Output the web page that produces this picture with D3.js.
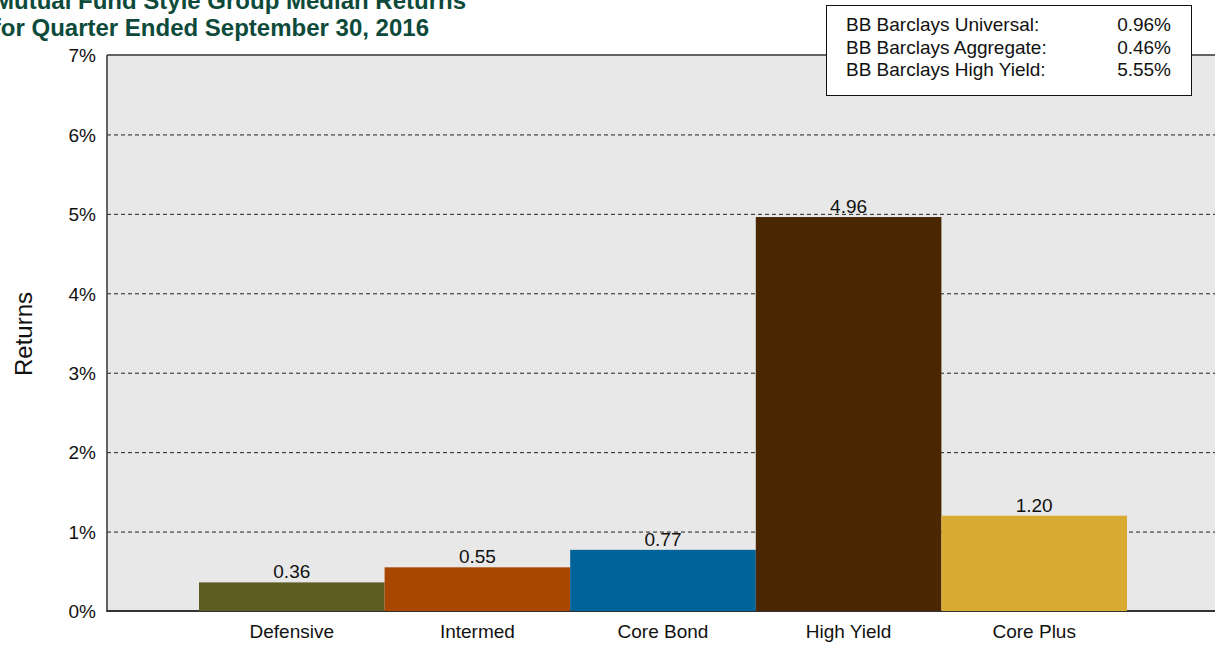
<!DOCTYPE html>
<html>
<head>
<meta charset="utf-8">
<script src="https://cdn.jsdelivr.net/npm/d3@7"></script>
<style>
  html, body { margin: 0; padding: 0; background: #ffffff; }
  svg { display: block; font-family: "Liberation Sans", Arial, sans-serif; }
</style>
</head>
<body>
<svg id="chart" width="1215" height="646"></svg>
<script>
const categories = ["Defensive", "Intermed", "Core Bond", "High Yield", "Core Plus"];
const values = [0.36, 0.55, 0.77, 4.96, 1.20];
const barColors = ["#5d5c22", "#a94600", "#006399", "#4a2700", "#daab32"];
const yTicks = [0, 1, 2, 3, 4, 5, 6, 7];
const titleLines = ["Mutual Fund Style Group Median Returns", "for Quarter Ended September 30, 2016"];
const benchNames = ["BB Barclays Universal:", "BB Barclays Aggregate:", "BB Barclays High Yield:"];
const benchValues = [0.96, 0.46, 5.55];

const svg = d3.select("#chart");
const plot = { left: 107, top: 55, right: 1219, bottom: 611 };
const FONT = "Liberation Sans, Arial, sans-serif";

const y = d3.scaleLinear().domain([0, 7]).range([plot.bottom, plot.top]);
const x = d3.scaleBand().domain(categories).range([199, 1127]).padding(0);

// plot background
svg.append("rect")
  .attr("x", plot.left).attr("y", plot.top)
  .attr("width", plot.right - plot.left).attr("height", plot.bottom - plot.top)
  .attr("fill", "#e8e8e8");

// grid lines
svg.append("g").selectAll("line")
  .data(yTicks.filter(d => d > 0 && d < 7))
  .join("line")
  .attr("x1", plot.left).attr("x2", plot.right)
  .attr("y1", d => y(d) + 0.5).attr("y2", d => y(d) + 0.5)
  .attr("stroke", "#222").attr("stroke-width", 1)
  .attr("stroke-dasharray", "4,3");

// frame: left, top, bottom
svg.append("line").attr("x1", plot.left).attr("x2", plot.left)
  .attr("y1", plot.top).attr("y2", plot.bottom)
  .attr("stroke", "#333").attr("stroke-width", 1.5);
svg.append("line").attr("x1", plot.left).attr("x2", plot.right)
  .attr("y1", plot.top).attr("y2", plot.top)
  .attr("stroke", "#333").attr("stroke-width", 1.5);
svg.append("line").attr("x1", plot.left - 0.75).attr("x2", plot.right)
  .attr("y1", plot.bottom).attr("y2", plot.bottom)
  .attr("stroke", "#333").attr("stroke-width", 2);

// bars
svg.append("g").selectAll("rect")
  .data(values)
  .join("rect")
  .attr("x", (d, i) => x(categories[i]))
  .attr("width", x.bandwidth())
  .attr("y", d => y(d))
  .attr("height", d => y(0) - y(d))
  .attr("fill", (d, i) => barColors[i]);

// bar value labels
svg.append("g").selectAll("text")
  .data(values)
  .join("text")
  .attr("x", (d, i) => x(categories[i]) + x.bandwidth() / 2)
  .attr("y", d => y(d) - 4)
  .attr("text-anchor", "middle")
  .attr("font-size", 19)
  .attr("fill", "#111")
  .text(d => d.toFixed(2));

// y axis
const yAxis = d3.axisLeft(y).tickValues(yTicks).tickSize(0).tickPadding(11)
  .tickFormat(d => d + "%");
const ya = svg.append("g").attr("transform", `translate(${plot.left},0)`).call(yAxis);
ya.select(".domain").remove();
ya.selectAll("text").attr("font-size", 19).attr("fill", "#111")
  .attr("font-family", FONT).attr("dy", "0.36em");

// x axis
const xAxis = d3.axisBottom(x).tickSize(0).tickPadding(14);
const xa = svg.append("g").attr("transform", `translate(0,${plot.bottom})`).call(xAxis);
xa.select(".domain").remove();
xa.selectAll("text").attr("font-size", 19).attr("fill", "#111")
  .attr("font-family", FONT);

// y axis title
svg.append("text")
  .attr("transform", `translate(32,${(plot.top + plot.bottom) / 2 + 1}) rotate(-90)`)
  .attr("text-anchor", "middle")
  .attr("font-size", 24)
  .attr("fill", "#111")
  .text("Returns");

// title
svg.append("g").selectAll("text")
  .data(titleLines)
  .join("text")
  .attr("x", (d, i) => i === 0 ? 466 : 429)
  .attr("y", (d, i) => 9 + i * 27)
  .attr("text-anchor", "end")
  .attr("font-size", 24)
  .attr("font-weight", "bold")
  .attr("fill", "#0d4a3a")
  .text(d => d);

// benchmark box
const box = { x: 826, y: 5, w: 365, h: 90 };
svg.append("rect")
  .attr("x", box.x + 0.5).attr("y", box.y + 0.5)
  .attr("width", box.w).attr("height", box.h)
  .attr("fill", "#fff").attr("stroke", "#111").attr("stroke-width", 1);
const bg = svg.append("g");
bg.selectAll("text.name")
  .data(benchNames)
  .join("text")
  .attr("class", "name")
  .attr("x", 846)
  .attr("y", (d, i) => 31 + i * 22.5)
  .attr("font-size", 19)
  .attr("fill", "#111")
  .text(d => d);
bg.selectAll("text.val")
  .data(benchValues)
  .join("text")
  .attr("class", "val")
  .attr("x", 1171)
  .attr("y", (d, i) => 31 + i * 22.5)
  .attr("text-anchor", "end")
  .attr("font-size", 19)
  .attr("fill", "#111")
  .text(d => d.toFixed(2) + "%");
</script>
</body>
</html>
